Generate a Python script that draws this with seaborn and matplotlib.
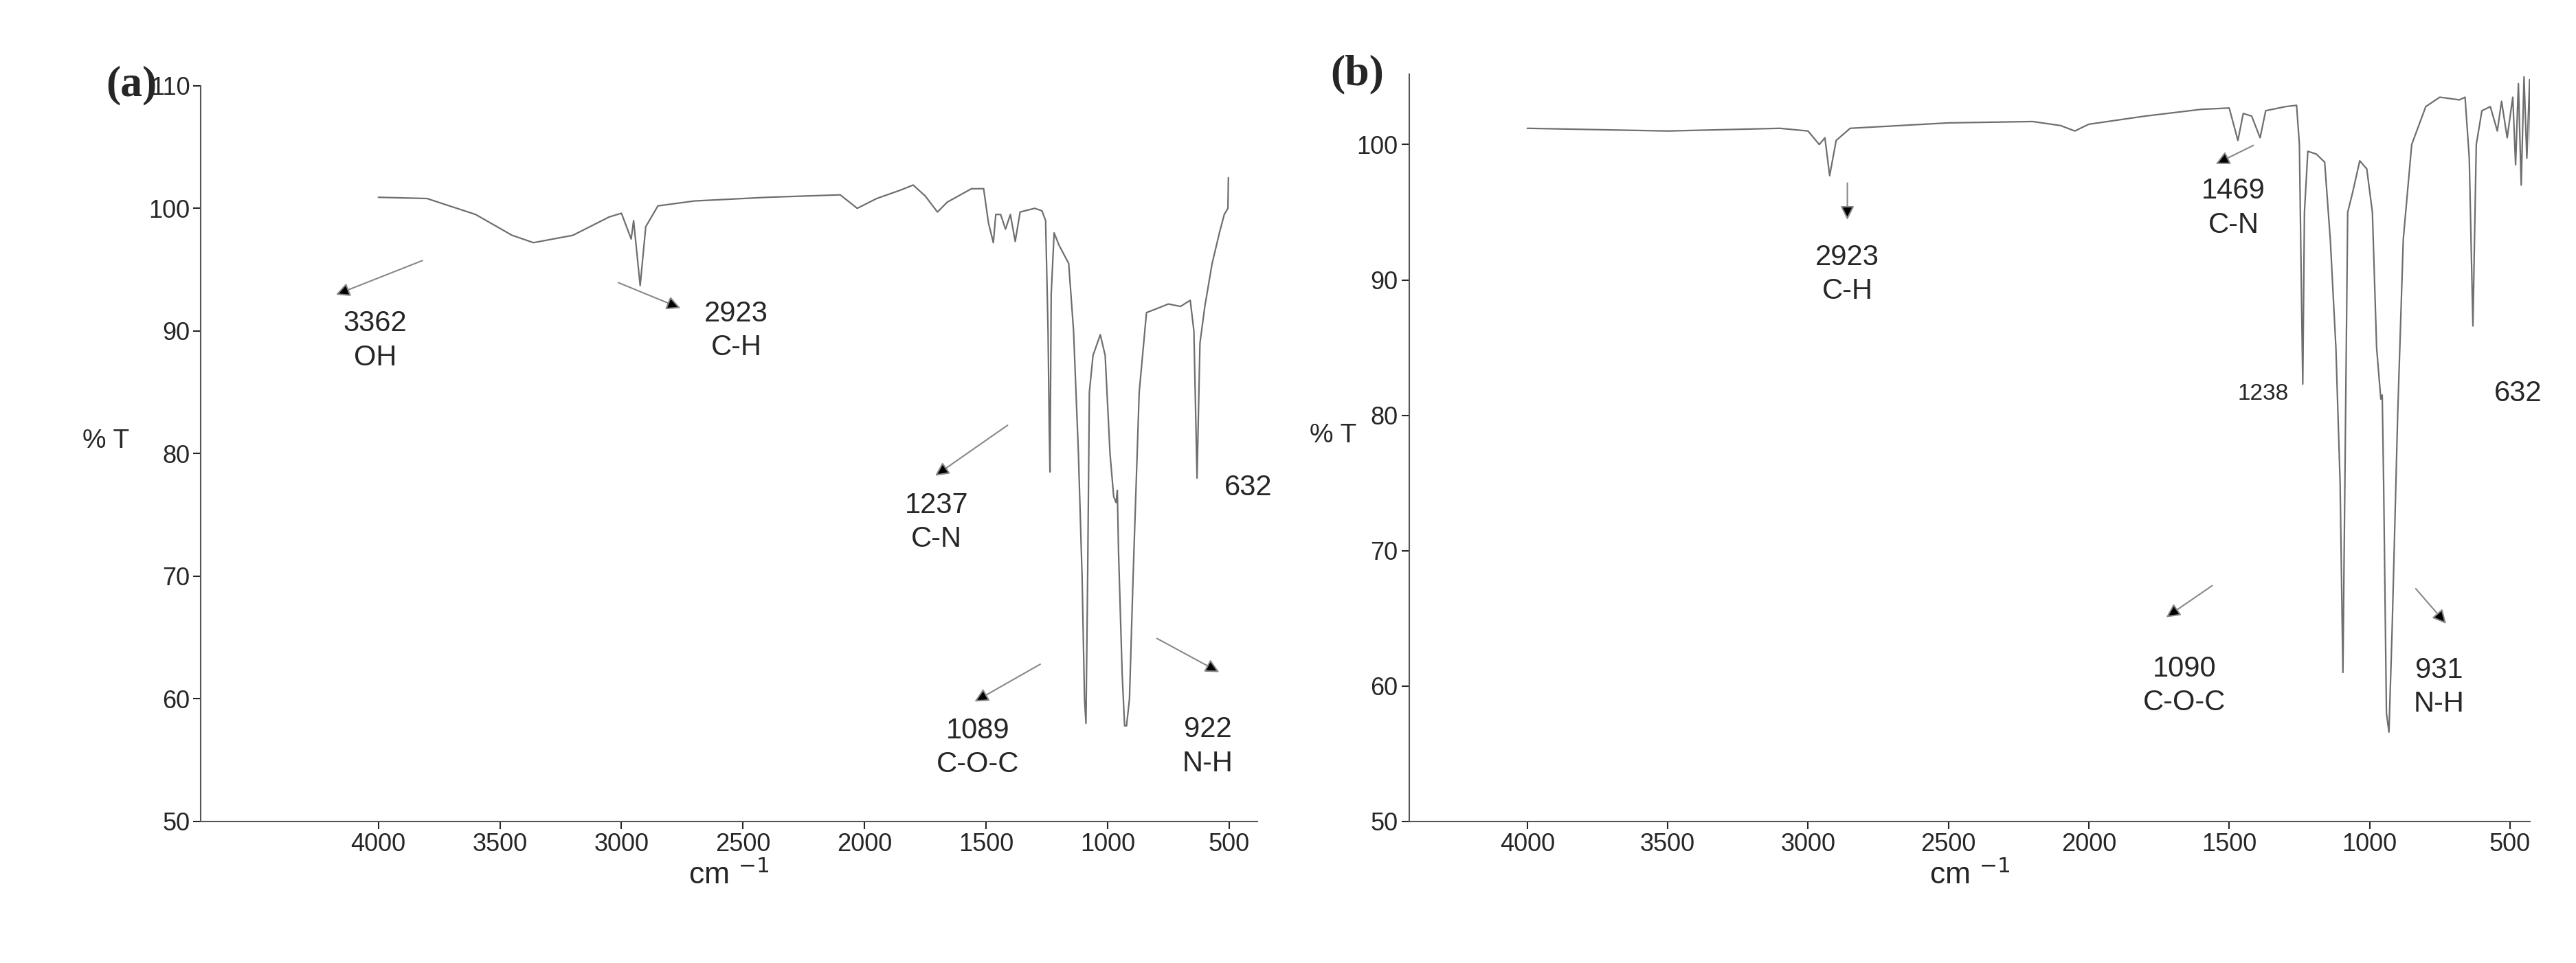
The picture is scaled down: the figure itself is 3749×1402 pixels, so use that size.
import matplotlib.pyplot as plt
import numpy as np
import pandas as pd
import seaborn as sns

sns.set_style("ticks")
plt.rcParams["font.family"] = ["Liberation Sans", "DejaVu Sans"]

# spectrum (a): wavenumber (cm-1) / %T
wn_a = [4000, 3800, 3600, 3450, 3362, 3200, 3050, 3000, 2960, 2950, 2923, 2900, 2850, 2700,
        2400, 2100, 2030, 1950, 1850, 1800, 1750, 1700, 1660, 1560, 1510, 1490, 1470, 1460,
        1440, 1420, 1400, 1380, 1360, 1300, 1270, 1255, 1245, 1240, 1237, 1232, 1220, 1200,
        1160, 1140, 1120, 1105, 1095, 1089, 1082, 1075, 1060, 1030, 1010, 990, 975, 965, 960,
        955, 940, 930, 922, 910, 895, 870, 840, 800, 750, 700, 660, 645, 632, 620, 600, 570,
        540, 520, 505, 503]
t_a = [100.9, 100.8, 99.5, 97.8, 97.2, 97.8, 99.3, 99.6, 97.5, 99.0, 93.7, 98.5, 100.2, 100.6,
       100.9, 101.1, 100.0, 100.8, 101.5, 101.9, 101.0, 99.7, 100.5, 101.6, 101.6, 98.8, 97.2, 99.5,
       99.5, 98.3, 99.5, 97.3, 99.7, 100.0, 99.8, 99.0, 90.0, 82.0, 78.5, 93.0, 98.0, 97.0,
       95.5, 90.0, 80.0, 70.0, 60.0, 58.0, 70.0, 85.0, 88.0, 89.7, 88.0, 80.0, 76.5, 76.0, 77.0,
       72.0, 62.0, 57.8, 57.8, 60.0, 70.0, 85.0, 91.5, 91.8, 92.2, 92.0, 92.5, 90.0, 78.0, 89.0, 92.0, 95.5,
       98.0, 99.5, 100.0, 102.5]

# spectrum (b)
wn_b = [4000, 3500, 3100, 3000, 2960, 2940, 2923, 2900, 2850, 2500, 2200, 2100, 2050, 2000,
        1800, 1600, 1500, 1469, 1450, 1420, 1390, 1370, 1300, 1260, 1250, 1242, 1238, 1232,
        1220, 1190, 1160, 1140, 1120, 1105, 1095, 1088, 1078, 1060, 1035, 1010, 990, 975, 960,
        955, 950, 940, 931, 920, 900, 880, 850, 800, 750, 680, 660, 645, 632, 620, 600, 570,
        545, 530, 510, 490, 480, 470, 460, 450, 440, 430, 425]
t_b = [101.2, 101.0, 101.2, 101.0, 100.0, 100.5, 97.7, 100.3, 101.2, 101.6, 101.7, 101.4, 101.0, 101.5,
       102.1, 102.6, 102.7, 100.3, 102.3, 102.1, 100.5, 102.5, 102.8, 102.9, 100.0, 88.0, 82.3, 95.0,
       99.5, 99.3, 98.7, 93.0, 85.0, 75.0, 61.0, 75.0, 95.0, 96.5, 98.8, 98.2, 95.0, 85.0, 81.2,
       81.5, 75.0, 58.0, 56.6, 64.0, 80.0, 93.0, 100.0, 102.8, 103.5, 103.3, 103.5, 99.0, 86.6, 100.0, 102.5, 102.8,
       101.0, 103.2, 100.5, 103.5, 98.5, 104.5, 97.0, 105.0, 99.0, 104.8, 98.0]

# annotations: (text, x, y, arrow tail, arrow head)
notes_a = [("3362\nOH", 4013, 89.2, (3811, 95.8), (4182, 92.9)),
           ("2923\nC-H", 2527, 90.0, (3020, 94.0), (2750, 91.8)),
           ("1237\nC-N", 1703, 74.4, (1405, 82.4), (1716, 78.1)),
           ("632", 420, 77.2, None, None),
           ("1089\nC-O-C", 1534, 56.0, (1270, 62.9), (1554, 59.7)),
           ("922\nN-H", 588, 56.1, (804, 65.0), (534, 62.1))]
notes_b = [("2923\nC-H", 2860, 90.4, (2860, 97.3), (2860, 94.3)),
           ("1469\nC-N", 1485, 95.3, (1408, 100.0), (1554, 98.5)),
           ("1090\nC-O-C", 1660, 60.0, (1555, 67.5), (1730, 65.0)),
           ("931\nN-H", 752, 59.9, (840, 67.3), (723, 64.5))]

df_a = pd.DataFrame({"wn": wn_a, "T": t_a})
df_b = pd.DataFrame({"wn": wn_b, "T": t_b})

fig = plt.figure(figsize=(37.49, 14.02), dpi=100)
ax_a = fig.add_axes([0.078, 0.147, 0.41, 0.764])
ax_b = fig.add_axes([0.547, 0.147, 0.435, 0.776])


def draw(ax, df, notes, xlim, ylim, tag, pad):
    sns.lineplot(data=df, x="wn", y="T", ax=ax, color="#6e6e6e", lw=1.6, sort=False)
    ax.set_xlim(*xlim)
    ax.set_ylim(*ylim)
    ax.set_xticks(np.arange(4000, 499, -500))
    ax.set_yticks(np.arange(50, 111 if ylim[1] > 106 else 101, 10))
    ax.tick_params(labelsize=26, length=8, width=1.5, direction="out")
    ax.set_xlabel("cm $^{-1}$", fontsize=32)
    ax.set_ylabel("% T", fontsize=28, rotation=0, labelpad=pad)
    sns.despine(ax=ax)
    for s in ["left", "bottom"]:
        ax.spines[s].set_linewidth(1.5)
        ax.spines[s].set_color("#555555")
    for txt, x, y, tail, head in notes:
        ax.text(x, y, txt, fontsize=30, ha="center", va="center", linespacing=1.3)
        if tail is not None:
            ax.annotate("", xy=head, xytext=tail,
                        arrowprops=dict(arrowstyle="-|>", color="#888888", lw=1.5,
                                        mutation_scale=30, fc="black", ec="#888888"))
    ax.text(-0.09 if pad > 30 else -0.07, 1.0, tag, transform=ax.transAxes, fontsize=46,
            weight="bold", family="Liberation Serif", va="center")


draw(ax_a, df_a, notes_a, (4730, 385), (50, 110), "(a)", 45)
draw(ax_b, df_b, notes_b, (4421, 430), (50, 105.2), "(b)", 25)
ax_b.text(1380, 81.6, "1238", fontsize=24, ha="center", va="center")
ax_b.text(472, 81.6, "632", fontsize=30, ha="center", va="center")

fig.savefig("out.png", dpi=100)
